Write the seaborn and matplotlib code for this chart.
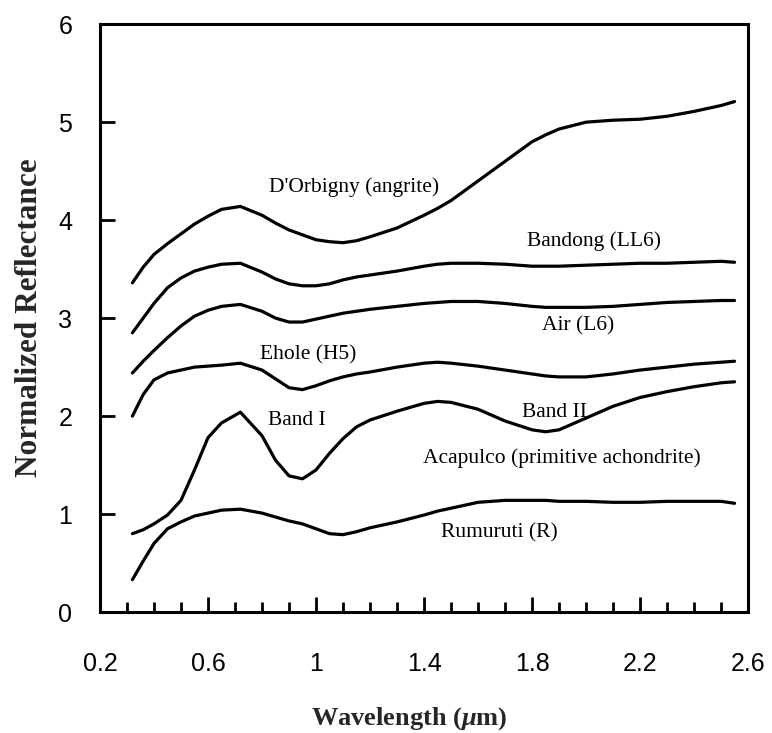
import matplotlib
matplotlib.use("Agg")
import matplotlib.pyplot as plt
import pandas as pd
import seaborn as sns
from matplotlib.ticker import MultipleLocator

# wavelength grid (um)
wavelength = [0.32, 0.36, 0.40, 0.45, 0.50, 0.55, 0.60, 0.65, 0.72, 0.80,
              0.85, 0.90, 0.95, 1.00, 1.05, 1.10, 1.15, 1.20, 1.30, 1.40,
              1.45, 1.50, 1.60, 1.70, 1.80, 1.85, 1.90, 2.00, 2.10, 2.20,
              2.30, 2.40, 2.50, 2.55]

dorbigny = [3.36, 3.52, 3.65, 3.76, 3.86, 3.96, 4.04, 4.11, 4.14, 4.05,
            3.97, 3.90, 3.85, 3.80, 3.78, 3.77, 3.79, 3.83, 3.92, 4.05,
            4.12, 4.20, 4.40, 4.60, 4.80, 4.87, 4.93, 5.00, 5.02, 5.03,
            5.06, 5.11, 5.17, 5.21]
bandong = [2.85, 3.00, 3.15, 3.31, 3.41, 3.48, 3.52, 3.55, 3.56, 3.47,
           3.40, 3.35, 3.33, 3.33, 3.35, 3.39, 3.42, 3.44, 3.48, 3.53,
           3.55, 3.56, 3.56, 3.55, 3.53, 3.53, 3.53, 3.54, 3.55, 3.56,
           3.56, 3.57, 3.58, 3.57]
air = [2.44, 2.56, 2.67, 2.80, 2.92, 3.02, 3.08, 3.12, 3.14, 3.07,
       3.00, 2.96, 2.96, 2.99, 3.02, 3.05, 3.07, 3.09, 3.12, 3.15,
       3.16, 3.17, 3.17, 3.15, 3.12, 3.11, 3.11, 3.11, 3.12, 3.14,
       3.16, 3.17, 3.18, 3.18]
ehole = [2.00, 2.22, 2.37, 2.44, 2.47, 2.50, 2.51, 2.52, 2.54, 2.47,
         2.38, 2.29, 2.27, 2.31, 2.36, 2.40, 2.43, 2.45, 2.50, 2.54,
         2.55, 2.54, 2.51, 2.47, 2.43, 2.41, 2.40, 2.40, 2.43, 2.47,
         2.50, 2.53, 2.55, 2.56]
acapulco = [0.80, 0.84, 0.90, 0.99, 1.14, 1.45, 1.78, 1.93, 2.04, 1.80,
            1.55, 1.39, 1.36, 1.45, 1.62, 1.77, 1.89, 1.96, 2.05, 2.13,
            2.15, 2.14, 2.07, 1.95, 1.86, 1.84, 1.86, 1.98, 2.10, 2.19,
            2.25, 2.30, 2.34, 2.35]
rumuruti = [0.33, 0.52, 0.70, 0.85, 0.92, 0.98, 1.01, 1.04, 1.05, 1.01,
            0.97, 0.93, 0.90, 0.85, 0.80, 0.79, 0.82, 0.86, 0.92, 0.99,
            1.03, 1.06, 1.12, 1.14, 1.14, 1.14, 1.13, 1.13, 1.12, 1.12,
            1.13, 1.13, 1.13, 1.11]

series = {"D'Orbigny (angrite)": dorbigny, "Bandong (LL6)": bandong,
          "Air (L6)": air, "Ehole (H5)": ehole,
          "Acapulco (primitive achondrite)": acapulco, "Rumuruti (R)": rumuruti}

# curve labels and where they sit (data coords)
label_text = ["D'Orbigny (angrite)", "Bandong (LL6)", "Air (L6)", "Ehole (H5)",
              "Band I", "Band II", "Acapulco (primitive achondrite)", "Rumuruti (R)"]
label_x = [1.14, 2.03, 1.97, 0.97, 0.93, 1.885, 1.91, 1.68]
label_y = [4.34, 3.79, 2.92, 2.62, 1.95, 2.04, 1.57, 0.81]

xtick_vals = [0.2, 0.6, 1.0, 1.4, 1.8, 2.2, 2.6]
xtick_labels = ["0.2", "0.6", "1", "1.4", "1.8", "2.2", "2.6"]
ytick_vals = [0, 1, 2, 3, 4, 5, 6]

sns.set_style("ticks")
plt.rcParams["font.family"] = ["Liberation Sans", "DejaVu Sans"]
plt.rcParams["mathtext.fontset"] = "custom"
plt.rcParams["mathtext.it"] = "Liberation Serif:italic:bold"
plt.rcParams["mathtext.rm"] = "Liberation Serif:bold"

df = pd.DataFrame([(name, w, r) for name, vals in series.items()
                   for w, r in zip(wavelength, vals)],
                  columns=["meteorite", "wavelength", "reflectance"])

fig = plt.figure(figsize=(7.72, 7.33), dpi=100)
ax = fig.add_axes([0.1295, 0.165, 0.8395, 0.802])

for name in series:
    sns.lineplot(data=df[df["meteorite"] == name], x="wavelength", y="reflectance",
                 color="black", linewidth=2.3, ax=ax, sort=False)

for t, x, y in zip(label_text, label_x, label_y):
    ax.text(x, y, t, ha="center", va="center", fontsize=15.5,
            family="Liberation Serif", color="black")

ax.set_xlim(0.2, 2.6)
ax.set_ylim(0, 6)
ax.set_xticks(xtick_vals)
ax.set_xticklabels(xtick_labels)
ax.set_yticks(ytick_vals)
ax.xaxis.set_minor_locator(MultipleLocator(0.1))
ax.tick_params(axis="both", which="both", direction="in", top=False, right=False,
               width=2, labelsize=18, colors="black")
ax.tick_params(axis="x", which="major", length=11, pad=29)
ax.tick_params(axis="x", which="minor", length=7)
ax.tick_params(axis="y", which="major", length=11, pad=20)
for s in ax.spines.values():
    s.set_linewidth(2.2)
    s.set_color("black")

ax.set_xlabel(r"Wavelength ($\mu$m)", family="Liberation Serif", fontweight="bold",
              fontsize=19)
ax.xaxis.set_label_coords(0.477, -0.158)
ax.set_ylabel("Normalized Reflectance", family="Liberation Serif", fontweight="bold",
              fontsize=22.5, labelpad=10)

fig.savefig("out.png", dpi=100)
